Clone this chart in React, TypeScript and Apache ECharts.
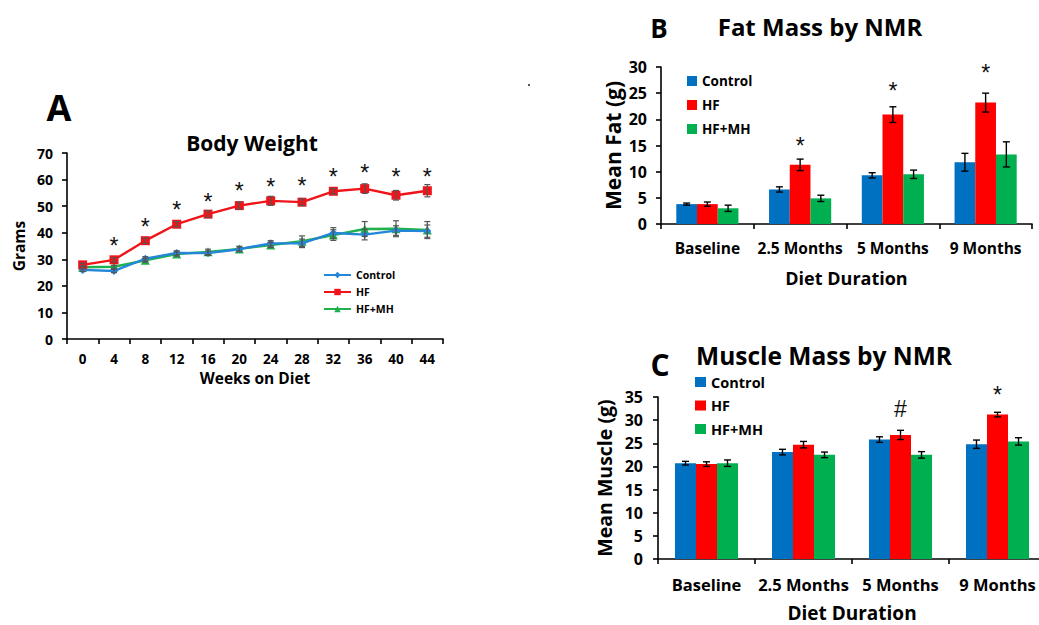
import React, { useEffect, useRef } from "react";
import * as echarts from "echarts";

// ---------- Panel A: Body Weight ----------
const weeks = ["0", "4", "8", "12", "16", "20", "24", "28", "32", "36", "40", "44"];
const bwControl = [26.0, 25.6, 30.2, 32.4, 32.3, 33.8, 36.0, 36.0, 39.9, 39.3, 40.8, 40.6];
const bwHF = [27.9, 29.8, 37.0, 43.2, 47.0, 50.2, 52.0, 51.5, 55.6, 56.6, 54.1, 55.8];
const bwHFMH = [27.0, 27.2, 29.6, 32.0, 32.8, 33.9, 35.4, 36.8, 39.1, 41.4, 41.5, 41.0];
const bwControlErr = [0.6, 0.6, 0.8, 0.8, 0.8, 0.8, 1.0, 1.6, 2.0, 2.0, 1.8, 2.3];
const bwHFErr = [0.6, 0.8, 1.0, 1.0, 1.3, 1.3, 1.7, 1.3, 1.0, 1.8, 1.8, 2.3];
const bwHFMHErr = [0.5, 0.5, 0.7, 0.8, 1.0, 1.0, 1.0, 2.0, 2.0, 2.8, 3.0, 3.2];
const bwStarY = [null, 36.7, 43.6, 50.1, 53.0, 57.2, 58.7, 59.3, 62.5, 64.0, 62.5, 62.7];
const bwStarText = ["", "*", "*", "*", "*", "*", "*", "*", "*", "*", "*", "*"];

// ---------- Panel B: Fat Mass ----------
const durations = ["Baseline", "2.5 Months", "5 Months", "9 Months"];
const fatControl = [3.8, 6.6, 9.3, 11.8];
const fatHF = [3.8, 11.3, 20.9, 23.2];
const fatHFMH = [3.0, 4.9, 9.5, 13.3];
const fatControlErr = [0.2, 0.5, 0.5, 1.7];
const fatHFErr = [0.4, 1.1, 1.5, 1.8];
const fatHFMHErr = [0.6, 0.6, 0.8, 2.4];
const fatMarkY = [null, 15.7, 26.2, 29.7];
const fatMarkText = ["", "*", "*", "*"];

// ---------- Panel C: Muscle Mass ----------
const musControl = [20.7, 23.1, 25.8, 24.8];
const musHF = [20.5, 24.7, 26.8, 31.2];
const musHFMH = [20.7, 22.5, 22.5, 25.4];
const musControlErr = [0.4, 0.6, 0.6, 0.9];
const musHFErr = [0.5, 0.7, 1.0, 0.5];
const musHFMHErr = [0.7, 0.6, 0.7, 0.8];
const musMarkY = [null, null, 32.3, 36.4];
const musMarkText = ["", "", "#", "*"];

const FONT = '"Open Sans", sans-serif';
const BLUE = "#0070C0";
const RED = "#FF0000";
const GREEN = "#00B050";
const LBLUE = "#2386DA";
const LRED = "#F0141A";
const LGREEN = "#1EB14E";

function errSeries(gi: number, vals: number[], errs: number[], slot: number, nSlots: number, gap: number, color: string, capW: number, lw: number) {
  return {
    type: "custom",
    xAxisIndex: gi,
    yAxisIndex: gi,
    z: 5,
    silent: true,
    data: vals.map((v, i) => [i, v, errs[i]]),
    encode: { x: 0, y: 1 },
    renderItem: (params: any, api: any) => {
      const i = api.value(0);
      const v = api.value(1);
      const e = api.value(2);
      const c = api.coord([i, v]);
      let cx = c[0];
      if (nSlots > 0) {
        const cat = api.size([1, 0])[0];
        const bw = (cat * (1 - gap)) / nSlots;
        cx += (slot - (nSlots - 1) / 2) * bw;
      }
      const t = api.coord([i, v + e])[1];
      const b = api.coord([i, v - e])[1];
      const st = { stroke: color, lineWidth: lw };
      return {
        type: "group",
        children: [
          { type: "line", shape: { x1: cx, y1: t, x2: cx, y2: b }, style: st },
          { type: "line", shape: { x1: cx - capW / 2, y1: t, x2: cx + capW / 2, y2: t }, style: st },
          { type: "line", shape: { x1: cx - capW / 2, y1: b, x2: cx + capW / 2, y2: b }, style: st },
        ],
      };
    },
  };
}

function markSeries(gi: number, ys: (number | null)[], texts: string[], slot: number, nSlots: number, gap: number, fontSize: number) {
  const data: number[][] = [];
  const labels: string[] = [];
  ys.forEach((y, i) => {
    if (y !== null) {
      data.push([i, y]);
      labels.push(texts[i]);
    }
  });
  return {
    type: "custom",
    xAxisIndex: gi,
    yAxisIndex: gi,
    z: 6,
    clip: false,
    silent: true,
    data,
    encode: { x: 0, y: 1 },
    renderItem: (params: any, api: any) => {
      const i = api.value(0);
      const y = api.value(1);
      const c = api.coord([i, y]);
      let cx = c[0];
      if (nSlots > 0) {
        const cat = api.size([1, 0])[0];
        const bw = (cat * (1 - gap)) / nSlots;
        cx += (slot - (nSlots - 1) / 2) * bw;
      }
      const label = labels[params.dataIndex];
      const off = label === "*" ? fontSize * 0.18 : 0;
      return {
        type: "text",
        x: cx,
        y: c[1] + off,
        style: {
          text: label,
          fontSize,
          fontFamily: '"Liberation Sans", Arial, sans-serif',
          fill: "#111",
          align: "center",
          verticalAlign: "middle",
        },
      };
    },
  };
}

const boldText = (size: number) => ({ color: "#000", fontFamily: FONT, fontWeight: "bold" as const, fontSize: size });

function catAxis(gi: number, data: string[], labelSize: number, labelMargin: number, name: string, nameSize: number, nameGap: number) {
  return {
    gridIndex: gi,
    type: "category",
    data,
    boundaryGap: true,
    axisLine: { show: true, lineStyle: { color: "#000", width: 1.6 } },
    axisTick: { show: true, length: 5, alignWithLabel: false, lineStyle: { color: "#000", width: 1.6 } },
    axisLabel: { ...boldText(labelSize), margin: labelMargin, interval: 0 },
    splitLine: { show: false },
    name,
    nameLocation: "middle",
    nameGap,
    nameTextStyle: boldText(nameSize),
  };
}

function valAxis(gi: number, max: number, interval: number, labelSize: number, labelMargin: number, name: string, nameSize: number, nameGap: number) {
  return {
    gridIndex: gi,
    type: "value",
    min: 0,
    max,
    interval,
    axisLine: { show: true, lineStyle: { color: "#000", width: 1.6 } },
    axisTick: { show: true, length: 5, lineStyle: { color: "#000", width: 1.6 } },
    axisLabel: { ...boldText(labelSize), margin: labelMargin },
    splitLine: { show: false },
    name,
    nameLocation: "middle",
    nameGap,
    nameTextStyle: boldText(nameSize),
  };
}

const GAP_B = 0.33;
const GAP_C = 0.35;

function barSeries(gi: number, name: string, vals: number[], color: string, gap: number) {
  return {
    type: "bar",
    name,
    xAxisIndex: gi,
    yAxisIndex: gi,
    data: vals,
    barGap: "0%",
    barCategoryGap: `${gap * 100}%`,
    itemStyle: { color },
    z: 2,
  };
}

export default function App() {
  const ref = useRef<HTMLDivElement>(null);
  useEffect(() => {
    if (!ref.current) return;
    const chart = echarts.init(ref.current, undefined, { renderer: "svg" });
    const strip = (n: string) => n.replace(/ [BC]$/, "");
    const option: any = {
      animation: false,
      backgroundColor: "#fff",
      grid: [
        { left: 67, top: 153, width: 376, height: 186, containLabel: false, outerBoundsMode: "none" },
        { left: 661, top: 67, width: 371, height: 157, containLabel: false, outerBoundsMode: "none" },
        { left: 658, top: 397, width: 388, height: 162, containLabel: false, outerBoundsMode: "none" },
      ],
      xAxis: [
        catAxis(0, weeks, 13.5, 13, "Weeks on Diet", 15.5, 31),
        catAxis(1, durations, 15.5, 16, "Diet Duration", 18, 45),
        catAxis(2, durations, 16.5, 17, "Diet Duration", 19, 44),
      ],
      yAxis: [
        valAxis(0, 70, 10, 14, 14, "Grams", 15.5, 40),
        valAxis(1, 30, 5, 16, 14, "Mean Fat (g)", 21, 38),
        valAxis(2, 35, 5, 16, 15, "Mean Muscle (g)", 19.5, 44),
      ],
      legend: [
        {
          data: ["Control", "HF", "HF+MH"],
          orient: "vertical",
          left: 323,
          top: 268,
          padding: 0,
          itemWidth: 27,
          itemHeight: 8,
          itemGap: 3,
          textStyle: { ...boldText(10.5), lineHeight: 14 },
          selectedMode: false,
        },
        {
          data: ["Control B", "HF B", "HF+MH B"],
          formatter: strip,
          orient: "vertical",
          left: 687,
          top: 73,
          padding: 0,
          icon: "rect",
          itemWidth: 10,
          itemHeight: 10,
          itemGap: 8,
          textStyle: { ...boldText(13.5), lineHeight: 16 },
          selectedMode: false,
        },
        {
          data: ["Control C", "HF C", "HF+MH C"],
          formatter: strip,
          orient: "vertical",
          left: 695,
          top: 374,
          padding: 0,
          icon: "rect",
          itemWidth: 11,
          itemHeight: 10,
          itemGap: 7.5,
          textStyle: { ...boldText(14.5), lineHeight: 16 },
          selectedMode: false,
        },
      ],
      graphic: [
        { type: "text", x: 59, y: 107, style: { text: "A", fontSize: 36, fontFamily: FONT, fontWeight: "bold", fill: "#000", align: "center", verticalAlign: "middle" } },
        { type: "text", x: 252, y: 143, style: { text: "Body Weight", fontSize: 21, fontFamily: FONT, fontWeight: "bold", fill: "#000", align: "center", verticalAlign: "middle" } },
        { type: "text", x: 659, y: 28, style: { text: "B", fontSize: 26, fontFamily: FONT, fontWeight: "bold", fill: "#000", align: "center", verticalAlign: "middle" } },
        { type: "text", x: 820, y: 26, style: { text: "Fat Mass by NMR", fontSize: 24, fontFamily: FONT, fontWeight: "bold", fill: "#000", align: "center", verticalAlign: "middle" } },
        { type: "text", x: 660, y: 364, style: { text: "C", fontSize: 30, fontFamily: FONT, fontWeight: "bold", fill: "#000", align: "center", verticalAlign: "middle" } },
        { type: "text", x: 824, y: 355, style: { text: "Muscle Mass by NMR", fontSize: 24.5, fontFamily: FONT, fontWeight: "bold", fill: "#000", align: "center", verticalAlign: "middle" } },
        { type: "rect", shape: { x: 528, y: 84, width: 2, height: 2 }, style: { fill: "#555" } },
      ],
      series: [
        // Panel A error bars
        errSeries(0, bwHFMH, bwHFMHErr, 0, 0, 0, "#555", 6, 1.2),
        errSeries(0, bwControl, bwControlErr, 0, 0, 0, "#555", 6, 1.2),
        errSeries(0, bwHF, bwHFErr, 0, 0, 0, "#555", 6, 1.2),
        {
          type: "line",
          name: "Control",
          xAxisIndex: 0,
          yAxisIndex: 0,
          data: bwControl,
          symbol: "diamond",
          symbolSize: 8,
          lineStyle: { color: LBLUE, width: 2.4 },
          itemStyle: { color: LBLUE },
          z: 4,
        },
        {
          type: "line",
          name: "HF",
          xAxisIndex: 0,
          yAxisIndex: 0,
          data: bwHF,
          symbol: "rect",
          symbolSize: 9,
          lineStyle: { color: LRED, width: 2.4 },
          itemStyle: { color: LRED },
          z: 4,
        },
        {
          type: "line",
          name: "HF+MH",
          xAxisIndex: 0,
          yAxisIndex: 0,
          data: bwHFMH,
          symbol: "triangle",
          symbolSize: 9,
          lineStyle: { color: LGREEN, width: 2.4 },
          itemStyle: { color: LGREEN },
          z: 3,
        },
        markSeries(0, bwStarY, bwStarText, 0, 0, 0, 23),
        // Panel B
        barSeries(1, "Control B", fatControl, BLUE, GAP_B),
        barSeries(1, "HF B", fatHF, RED, GAP_B),
        barSeries(1, "HF+MH B", fatHFMH, GREEN, GAP_B),
        errSeries(1, fatControl, fatControlErr, 0, 3, GAP_B, "#000", 7, 1.4),
        errSeries(1, fatHF, fatHFErr, 1, 3, GAP_B, "#000", 7, 1.4),
        errSeries(1, fatHFMH, fatHFMHErr, 2, 3, GAP_B, "#000", 7, 1.4),
        markSeries(1, fatMarkY, fatMarkText, 1, 3, GAP_B, 23),
        // Panel C
        barSeries(2, "Control C", musControl, BLUE, GAP_C),
        barSeries(2, "HF C", musHF, RED, GAP_C),
        barSeries(2, "HF+MH C", musHFMH, GREEN, GAP_C),
        errSeries(2, musControl, musControlErr, 0, 3, GAP_C, "#000", 7, 1.4),
        errSeries(2, musHF, musHFErr, 1, 3, GAP_C, "#000", 7, 1.4),
        errSeries(2, musHFMH, musHFMHErr, 2, 3, GAP_C, "#000", 7, 1.4),
        markSeries(2, musMarkY, musMarkText, 1, 3, GAP_C, 23),
      ],
    };
    chart.setOption(option);
    return () => chart.dispose();
  }, []);
  return <div ref={ref} style={{ position: "fixed", left: 0, top: 0, width: 1039, height: 625, background: "#fff" }} />;
}
